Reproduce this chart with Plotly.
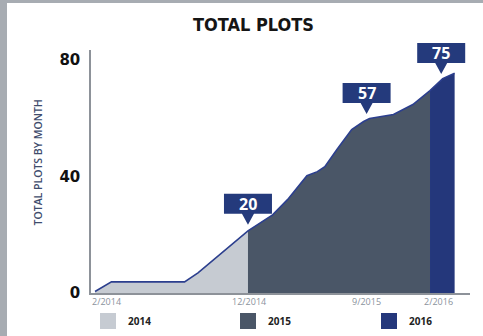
import numpy as np
import plotly.graph_objects as go

# ---- data ----
months = [0, 1.1, 6.0, 6.9, 10.25, 11.9, 12.9, 14.2, 14.9, 15.4, 16.2, 17.2,
          18.0, 18.4, 20.0, 21.3, 22.45, 23.3, 24.1]          # months since 2/2014
plots = [0.5, 3.8, 3.8, 6.9, 21.3, 26.8, 32.0, 40.2, 41.6, 43.3, 49.1, 56.0,
         58.8, 59.8, 61.2, 64.6, 69.4, 73.5, 75.3]
years = ["2014", "2015", "2016"]
year_start = [0, 10.25, 22.45]
year_end = [10.25, 22.45, 24.1]
year_colors = ["#c6cbd2", "#4a5667", "#24377b"]

callout_x = [10.25, 18.2, 23.2]
callout_text = ["20", "57", "75"]

tick_pos = [0, 10.3, 18.2, 24.0]
tick_text = ["2/2014", "12/2014", "9/2015", "2/2016"]
tick_anchor = ["left", "center", "center", "right"]
tick_shift = [-5, 0, 0, 2]

W, H = 483, 336
ML, MR, MT, MB = 91, 13, 50, 43
PW, PH = W - ML - MR, H - MT - MB
Y_MAX = 83.3

LINE = "#2c3f8e"
BOX = "#243a7c"

fig = go.Figure()
mx = np.array(months)
my = np.array(plots)
for yr, s, e, c in zip(years, year_start, year_end, year_colors):
    m = (mx >= s) & (mx <= e)
    fig.add_trace(go.Scatter(x=mx[m], y=my[m], mode="none", fill="tozeroy",
                             fillcolor=c, showlegend=False, hoverinfo="skip"))
fig.add_trace(go.Scatter(x=months, y=plots, mode="lines",
                         line=dict(color=LINE, width=1.6), showlegend=False))
# legend entries, one legend per year
legend_px = [100, 240, 381]
legend_names = ["legend", "legend2", "legend3"]
for yr, c, ln in zip(years, year_colors, legend_names):
    fig.add_trace(go.Scatter(x=[None], y=[None], mode="markers", name=yr, legend=ln,
                             marker=dict(symbol="square", size=17, color=c)))

shapes = []
annotations = []
gap = 6
for cx, ct in zip(callout_x, callout_text):
    cy = float(np.interp(cx, months, plots))
    shapes.append(dict(type="path", xref="x", yref="paper", xsizemode="pixel", ysizemode="pixel",
                       xanchor=cx, yanchor=cy / Y_MAX,
                       path=f"M0,{gap} L-6,{gap+11} L-24,{gap+11} L-24,{gap+31} L24,{gap+31} L24,{gap+11} L6,{gap+11} Z",
                       fillcolor=BOX, line=dict(width=0), layer="above"))
    annotations.append(dict(x=cx, y=cy, xref="x", yref="y", text=ct, showarrow=False,
                            yanchor="middle", yshift=gap + 21,
                            font=dict(family="Open Sans", size=16, color="white", weight="bold")))

for p, t, a, s in zip(tick_pos, tick_text, tick_anchor, tick_shift):
    annotations.append(dict(x=p, y=0, xref="x", yref="paper", text=t, showarrow=False,
                            xanchor=a, xshift=s, yanchor="middle", yshift=-8,
                            font=dict(family="Open Sans", size=9, color="#8a929c")))

# title and y-axis title
annotations.append(dict(x=(253 - ML) / PW, y=(H - 25 - MB) / PH, xref="paper", yref="paper",
                        text="TOTAL PLOTS", showarrow=False, xanchor="center", yanchor="middle",
                        font=dict(family="DejaVu Sans Condensed, Roboto", size=18,
                                  color="#151515", weight="bold")))
annotations.append(dict(x=(37.5 - ML) / PW, y=(H - 163 - MB) / PH, xref="paper", yref="paper",
                        text="TOTAL PLOTS BY MONTH", showarrow=False, textangle=-90,
                        xanchor="center", yanchor="middle",
                        font=dict(family="Open Sans", size=10.5, color="#3e4c6c", weight=600)))

# gray frame strips
shapes.append(dict(type="rect", xref="paper", yref="paper", x0=-ML / PW, x1=(7 - ML) / PW,
                   y0=-MB / PH, y1=(PH + MT) / PH, fillcolor="#a7acb2", line=dict(width=0), layer="above"))
shapes.append(dict(type="rect", xref="paper", yref="paper", x0=-ML / PW, x1=(W - ML) / PW,
                   y0=(PH + MT - 3) / PH, y1=(PH + MT) / PH, fillcolor="#a7acb2", line=dict(width=0), layer="above"))

legend_common = dict(orientation="h", xanchor="left", y=-(321 - (H - MB)) / PH, yanchor="middle",
                     font=dict(family="Open Sans", size=10, color="#222222", weight="bold"),
                     bgcolor="rgba(0,0,0,0)", borderwidth=0)
legends = {}
for ln, px in zip(legend_names, legend_px):
    legends[ln] = dict(legend_common, x=(px - 12 - ML) / PW)

fig.update_layout(
    width=W, height=H,
    margin=dict(l=ML, r=MR, t=MT, b=MB, autoexpand=False),
    paper_bgcolor="white", plot_bgcolor="white",
    xaxis=dict(range=[-0.27, 25.13], showgrid=False, zeroline=False, showticklabels=False,
               showline=True, linecolor="#8d9299", linewidth=2, ticks=""),
    yaxis=dict(range=[0, Y_MAX], showgrid=False, zeroline=False, tickvals=[0, 40, 80],
               showline=True, linecolor="#8d9299", linewidth=1.5, ticks="", ticklabelstandoff=6,
               tickfont=dict(family="DejaVu Sans", size=15, color="#111111", weight="bold")),
    shapes=shapes, annotations=annotations,
    **legends,
)

fig.write_html("out.html")
